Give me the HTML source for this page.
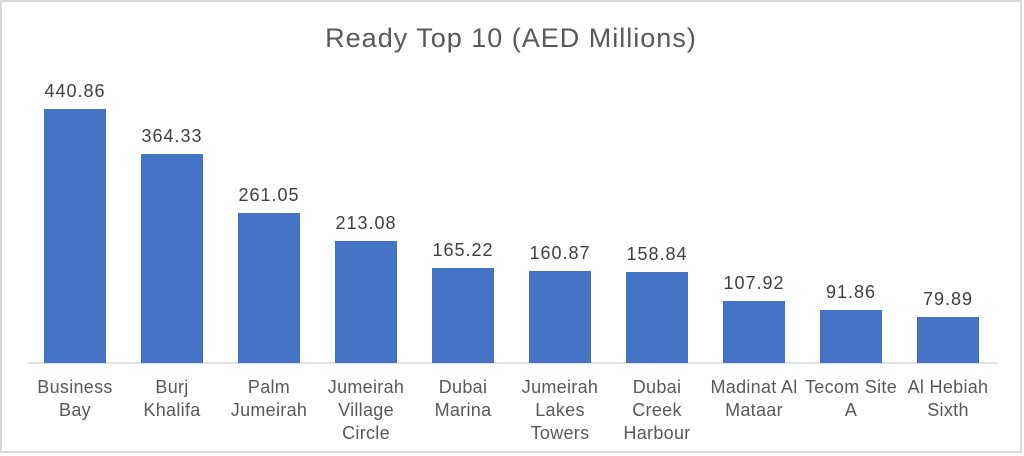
<!DOCTYPE html>
<html><head><meta charset="utf-8"><style>
html,body{margin:0;padding:0;background:#fff;}
svg{display:block;font-family:"Liberation Sans",Arial,sans-serif;}
</style></head><body>
<svg width="1024" height="456" viewBox="0 0 1024 456" xmlns="http://www.w3.org/2000/svg">
<rect x="0" y="0" width="1024" height="456" fill="#fff"/>
<rect x="1" y="1" width="1020" height="451" fill="none" stroke="#d9d9d9" stroke-width="2"/>
<text x="511" y="47" text-anchor="middle" font-size="27" letter-spacing="1" fill="#595959">Ready Top 10 (AED Millions)</text>
<line x1="28" y1="363" x2="997" y2="363" stroke="#d9d9d9" stroke-width="1.5"/>
<g fill="#4472c4">
<rect x="44" y="109" width="62" height="254"/>
<rect x="141" y="154" width="62" height="209"/>
<rect x="238" y="213" width="62" height="150"/>
<rect x="335" y="241" width="62" height="122"/>
<rect x="432" y="268" width="62" height="95"/>
<rect x="529" y="271" width="62" height="92"/>
<rect x="626" y="272" width="62" height="91"/>
<rect x="723" y="301" width="62" height="62"/>
<rect x="820" y="310" width="62" height="53"/>
<rect x="917" y="317" width="62" height="46"/>
</g>
<g font-size="18" letter-spacing="1" fill="#404040" text-anchor="middle">
<text x="75" y="97">440.86</text>
<text x="172" y="142">364.33</text>
<text x="269" y="201">261.05</text>
<text x="366" y="229">213.08</text>
<text x="463" y="256">165.22</text>
<text x="560" y="259">160.87</text>
<text x="657" y="260">158.84</text>
<text x="754" y="289">107.92</text>
<text x="851" y="298">91.86</text>
<text x="948" y="305">79.89</text>
</g>
<g font-size="18" letter-spacing="0.3" fill="#595959" text-anchor="middle">
<text x="75" y="393">Business</text><text x="75" y="416">Bay</text>
<text x="172" y="393">Burj</text><text x="172" y="416">Khalifa</text>
<text x="269" y="393">Palm</text><text x="269" y="416">Jumeirah</text>
<text x="366" y="393">Jumeirah</text><text x="366" y="416">Village</text><text x="366" y="439">Circle</text>
<text x="463" y="393">Dubai</text><text x="463" y="416">Marina</text>
<text x="560" y="393">Jumeirah</text><text x="560" y="416">Lakes</text><text x="560" y="439">Towers</text>
<text x="657" y="393">Dubai</text><text x="657" y="416">Creek</text><text x="657" y="439">Harbour</text>
<text x="754" y="393">Madinat Al</text><text x="754" y="416">Mataar</text>
<text x="851" y="393">Tecom Site</text><text x="851" y="416">A</text>
<text x="948" y="393">Al Hebiah</text><text x="948" y="416">Sixth</text>
</g>
</svg>
</body></html>
